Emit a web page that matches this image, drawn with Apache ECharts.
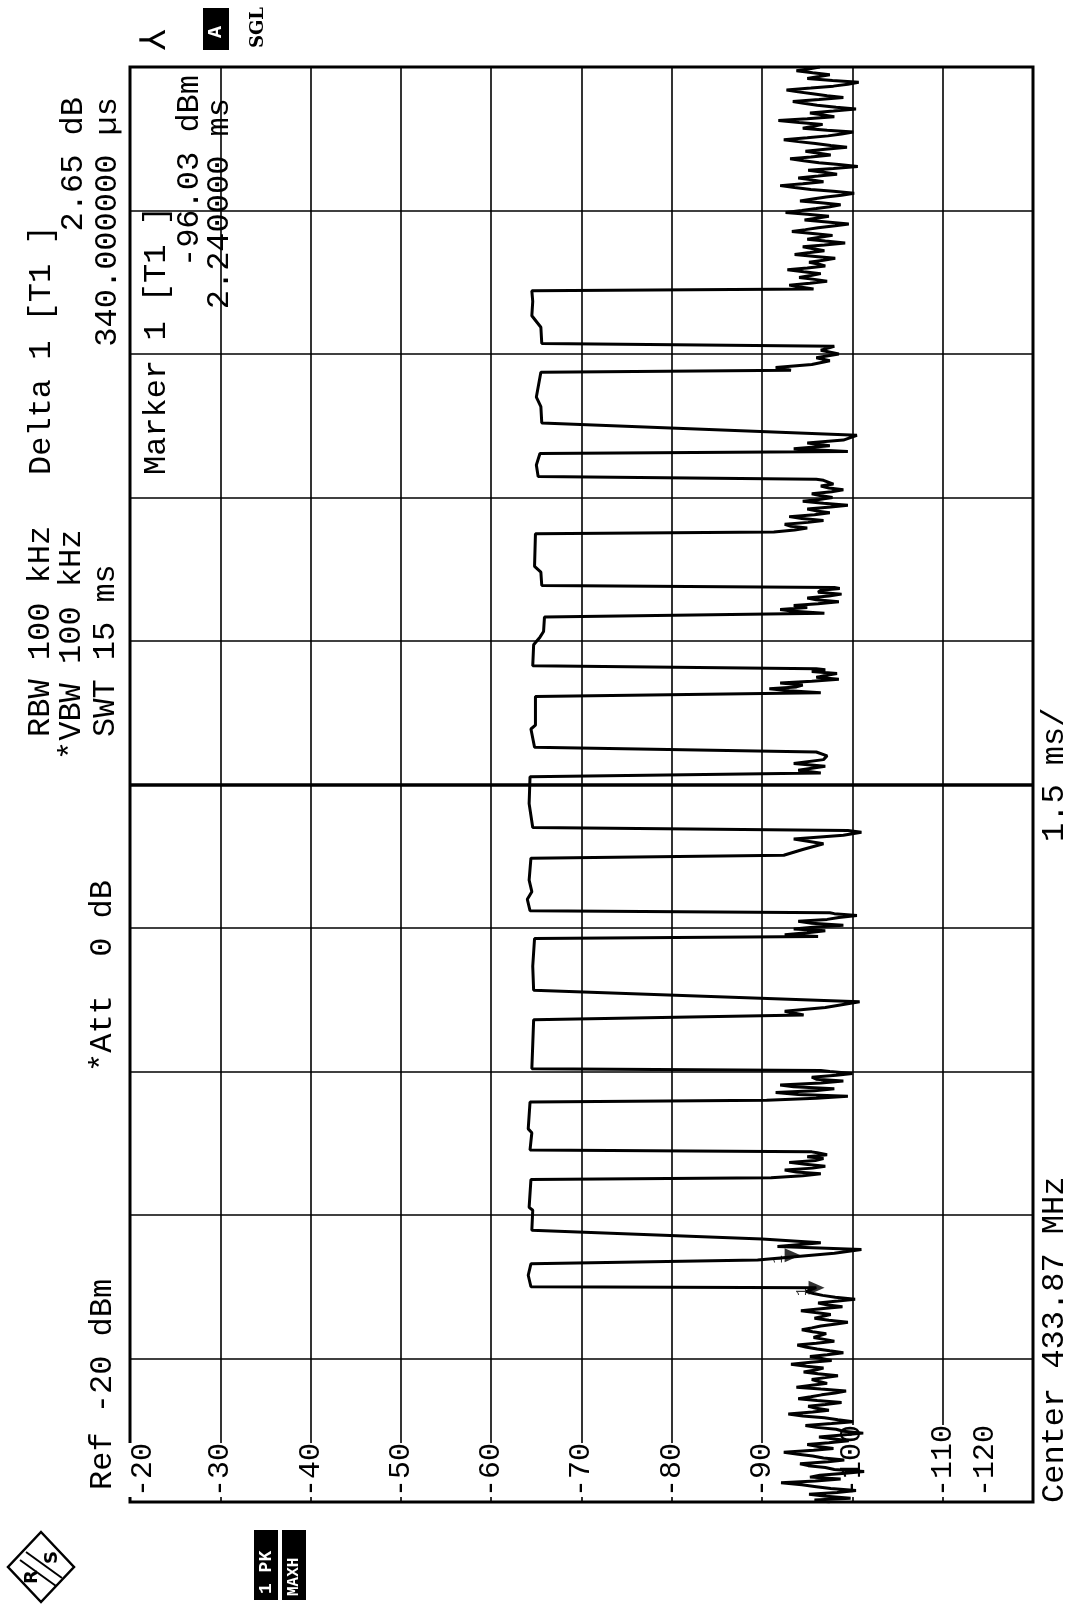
<!DOCTYPE html>
<html><head><meta charset="utf-8">
<script src="https://cdn.jsdelivr.net/npm/echarts@6/dist/echarts.min.js"></script>
<style>html,body{margin:0;padding:0;background:#fff}#c{width:1075px;height:1607px}</style>
</head><body><div id="c"></div>
<script>
// ---- data ----
const levelTicks = [-20, -30, -40, -50, -60, -70, -80, -90, -100, -110, -120]; // dBm
const timeRange = [0, 15]; // ms, 1.5 ms/div
const traceMs = [
  0.00,0.02,0.04,0.06,0.08,0.10,0.12,0.14,0.16,0.18,0.20,0.22,0.24,0.26,0.28,0.30,0.32,0.34,0.36,0.38,
  0.40,0.42,0.44,0.46,0.48,0.50,0.52,0.54,0.56,0.58,0.60,0.62,0.64,0.66,0.68,0.70,0.72,0.74,0.76,0.78,
  0.80,0.82,0.84,0.86,0.88,0.90,0.92,0.94,0.96,0.98,1.00,1.02,1.04,1.06,1.08,1.10,1.12,1.14,1.16,1.18,
  1.20,1.22,1.24,1.26,1.28,1.30,1.32,1.34,1.36,1.38,1.40,1.42,1.44,1.46,1.48,1.50,1.52,1.54,1.56,1.58,
  1.60,1.62,1.64,1.66,1.68,1.70,1.72,1.74,1.76,1.78,1.80,1.82,1.84,1.86,1.88,1.90,1.92,1.94,1.96,1.98,
  2.00,2.02,2.04,2.06,2.08,2.10,2.12,2.14,2.16,2.18,2.20,2.22,2.24,
  2.25,2.37,2.49, 2.53,2.60,2.64,2.67,2.71,2.75,
  2.84,3.05,3.08,3.37, 3.39,3.41,3.43,3.45,3.47,3.49,3.51,3.53,3.55,3.57,3.59,3.61,3.63,3.65,3.66,
  3.68,3.86,3.90,4.18, 4.20,4.22,4.24,4.26,4.28,4.30,4.32,4.34,4.36,4.38,4.40,4.42,4.44,4.46,4.48,4.50,4.51,
  4.53,4.78,5.04, 5.09,5.13,5.17,5.23,
  5.35,5.60,5.89, 5.91,5.93,5.95,5.97,5.99,6.01,6.03,6.05,6.07,6.09,6.11,6.13,6.15,6.16,
  6.18,6.30,6.38,6.50,6.73, 6.76,6.82,6.88,6.93,6.97,7.00,7.02,
  7.05,7.30,7.58, 7.62,7.65,7.69,7.72,7.76,7.80,7.84,
  7.89,8.08,8.12,8.42, 8.46,8.48,8.50,8.52,8.54,8.56,8.58,8.60,8.62,8.64,8.66,8.68,8.70,8.71,
  8.74,8.96,9.04,9.10,9.25, 9.29,9.31,9.33,9.35,9.37,9.39,9.41,9.43,9.45,9.47,9.49,9.51,9.53,9.55,9.56,
  9.58,9.72,9.78,10.12, 10.14,10.16,10.18,10.20,10.22,10.24,10.26,10.28,10.30,10.32,10.34,10.36,10.38,10.40,10.42,10.44,10.46,10.48,10.50,10.52,10.54,10.56,10.58,10.60,10.62,10.64,10.66,10.68,10.69,
  10.72,10.84,10.96, 10.98,11.01,11.04,11.07,11.10,11.15,
  11.28,11.45,11.55,11.81, 11.83,11.86,11.89,11.93,11.96,12.00,12.04,12.08,
  12.11,12.28,12.40,12.55,12.66,
  12.68,12.70,12.72,12.74,12.76,12.78,12.80,12.82,12.84,12.86,12.88,12.90,12.92,12.94,12.96,12.98,13.00,13.02,13.04,13.06,
  13.08,13.10,13.12,13.14,13.16,13.18,13.20,13.22,13.24,13.26,13.28,13.30,13.32,13.34,13.36,13.38,13.40,13.42,13.44,13.46,
  13.48,13.50,13.52,13.54,13.56,13.58,13.60,13.62,13.64,13.66,13.68,13.70,13.72,13.74,13.76,13.78,13.80,13.82,13.84,13.86,
  13.88,13.90,13.92,13.94,13.96,13.98,14.00,14.02,14.04,14.06,14.08,14.10,14.12,14.14,14.16,14.18,14.20,14.22,14.24,14.26,
  14.28,14.30,14.32,14.34,14.36,14.38,14.40,14.42,14.44,14.46,14.48,14.50,14.52,14.54,14.56,14.58,14.60,14.62,14.64,14.66,
  14.68,14.70,14.72,14.74,14.76,14.78,14.80,14.82,14.84,14.86,14.88,14.90,14.92,14.94,14.96,14.98,15.00
];
const traceDbm = [
  -97.5,-95.8,-99.8,-97.1,-95.2,-98.3,-100.4,-97.6,-96.0,-94.4,-92.1,-95.9,-98.7,-95.3,-96.4,-99.2,-101.3,-98.0,-97.0,-95.1,
  -94.2,-97.3,-99.1,-96.8,-95.6,-94.0,-92.4,-95.7,-97.9,-96.2,-95.0,-97.4,-99.6,-97.8,-96.3,-98.9,-101.2,-99.0,-98.2,-96.0,
  -94.8,-97.7,-100.1,-98.4,-96.9,-94.5,-92.9,-95.6,-97.4,-96.0,-95.1,-97.0,-98.8,-96.1,-94.0,-95.4,-96.6,-98.1,-99.3,-96.5,
  -93.8,-95.5,-97.2,-96.3,-95.5,-97.0,-98.4,-96.2,-94.6,-95.9,-96.8,-94.9,-93.2,-95.4,-97.7,-96.6,-95.3,-97.2,-99.0,-97.5,
  -96.1,-94.8,-93.9,-96.0,-98.0,-96.9,-95.7,-96.4,-97.1,-95.6,-94.4,-95.5,-96.5,-98.2,-99.5,-97.4,-95.8,-96.7,-97.6,-95.9,
  -94.3,-96.5,-98.9,-97.3,-96.2,-98.4,-100.3,-98.1,-96.7,-95.7,-94.9,-95.4,-96.0,
  -64.4,-64.1,-64.4, -89.5,-98.0,-101.0,-91.7,-96.5,-90.0,
  -64.5,-64.6,-64.2,-64.4, -91.0,-94.5,-96.5,-93.8,-92.5,-95.6,-97.0,-94.8,-93.0,-95.9,-96.8,-95.0,-97.2,-96.1,-95.5,
  -64.3,-64.5,-64.1,-64.3, -90.5,-96.0,-99.5,-94.0,-91.5,-95.8,-98.0,-93.5,-92.0,-96.5,-99.0,-96.0,-95.5,-98.2,-100.0,-97.5,-96.5,
  -64.5,-64.6,-64.7, -94.6,-92.5,-97.0,-100.8,
  -64.7,-64.6,-64.8, -96.2,-92.5,-95.0,-97.0,-93.5,-96.0,-99.0,-95.5,-94.0,-97.2,-98.5,-100.5,-98.0,-97.5,
  -64.3,-64.0,-64.5,-64.2,-64.4, -92.4,-94.5,-96.8,-93.5,-99.0,-101.0,-99.5,
  -64.6,-64.2,-64.3, -96.5,-94.0,-97.0,-93.5,-96.8,-97.2,-96.0,
  -64.8,-64.4,-64.9,-64.9, -96.5,-93.0,-90.8,-93.8,-94.5,-92.0,-95.5,-98.5,-96.0,-97.0,-98.3,-95.5,-97.0,-96.0,
  -64.6,-64.7,-65.4,-65.8,-65.9, -96.9,-93.5,-92.0,-95.0,-93.5,-96.2,-98.5,-96.0,-95.0,-97.4,-98.8,-96.2,-96.5,-98.6,-98.0,
  -65.6,-65.5,-64.8,-64.9, -91.3,-93.6,-95.0,-93.2,-92.5,-95.1,-96.8,-94.4,-93.0,-95.8,-97.5,-96.0,-95.0,-97.6,-99.5,-96.8,-94.5,-96.3,-97.8,-96.4,-95.5,-97.7,-99.0,-97.4,-96.5,-97.9,-98.0,-96.8,-96.0,
  -65.2,-65.0,-65.4, -99.5,-93.5,-97.5,-95.0,-99.0,-100.5,
  -65.6,-65.5,-65.0,-65.5, -93.2,-91.5,-95.5,-97.5,-96.0,-98.5,-96.5,-98.0,
  -65.6,-65.5,-64.5,-64.6,-64.5,
  -95.7,-94.2,-93.0,-95.3,-97.2,-95.8,-94.1,-95.4,-96.5,-94.6,-92.8,-95.0,-97.0,-96.2,-95.2,-96.8,-98.1,-95.9,-93.6,-95.3,
  -96.9,-95.7,-94.5,-96.9,-99.2,-97.0,-95.0,-96.4,-97.8,-95.6,-93.3,-94.8,-96.2,-98.1,-99.6,-97.2,-94.7,-96.0,-97.4,-95.0,
  -92.6,-94.4,-96.0,-97.5,-98.7,-96.5,-94.2,-95.6,-97.1,-98.8,-100.2,-97.9,-95.4,-93.6,-92.0,-94.5,-96.8,-95.5,-94.0,-96.2,
  -98.3,-96.8,-95.1,-97.9,-100.6,-98.5,-96.3,-94.6,-93.1,-95.4,-97.6,-96.1,-94.8,-97.0,-99.4,-97.6,-95.9,-94.0,-92.4,-95.0,
  -97.3,-98.8,-100.1,-97.2,-94.5,-95.7,-96.7,-94.1,-91.8,-95.0,-98.0,-96.6,-95.3,-97.9,-100.4,-98.2,-96.1,-94.6,-93.4,-96.3,
  -99.0,-97.2,-95.6,-94.0,-92.7,-95.4,-97.9,-99.5,-100.7,-97.8,-95.0,-96.3,-97.5,-95.6,-93.8,-95.1,-96.4
];
const markerMs = [2.24, 2.58];          // Marker 1, Delta 1
const markerDbm = [-96.03, -93.38];     // -96.03 dBm, +2.65 dB

// ---- texts: [text, x, y, align] ----
const FONT = '"Liberation Mono", "DejaVu Sans Mono", monospace';
const headerTexts = [
  ['Delta 1 [T1 ]', 42, 475, 'left'], ['2.65 dB', 74, 97, 'right'],
  ['340.000000 \u00b5s', 108, 97, 'right'],
  ['Marker 1 [T1 ]', 157, 475, 'left'], ['-96.03 dBm', 190, 75, 'right'], ['2.240000 ms', 220, 98, 'right'],
  ['RBW 100 kHz', 41, 737, 'left'], ['*VBW 100 kHz', 72, 760, 'left'], ['SWT 15 ms', 106, 737, 'left'],
  ['*Att  0 dB', 103, 1072, 'left'], ['Ref -20 dBm', 103, 1490, 'left'],
  ['Center 433.87 MHz', 1055, 1503, 'left'], ['1.5 ms/', 1055, 842, 'left']
];

const chart = echarts.init(document.getElementById('c'), null, {renderer: 'canvas'});
const data = traceMs.map((t, i) => [traceDbm[i], t]);

function vtext(txt, x, y, size, extra) {
  return {
    type: 'text', x: x, y: y, rotation: Math.PI / 2, z: 100,
    style: Object.assign({text: txt, fontFamily: FONT, fontSize: size, fill: '#000', align: 'left', verticalAlign: 'middle'}, (extra || {}))
  };
}

chart.setOption({
  animation: false,
  backgroundColor: '#fff',
  grid: {left: 130, right: 42, top: 67, bottom: 105, show: true, borderColor: '#000', borderWidth: 3, containLabel: false, outerBoundsMode: 'none'},
  xAxis: {
    type: 'value', min: levelTicks[levelTicks.length - 1], max: levelTicks[0], interval: 10, inverse: true,
    axisLine: {show: false}, axisTick: {show: false},
    splitLine: {show: true, lineStyle: {color: '#000', width: 1.6}},
    axisLabel: {inside: true, rotate: 90, margin: 5, fontFamily: FONT, fontSize: 30, color: '#000',
      backgroundColor: '#fff', showMinLabel: false, showMaxLabel: false}
  },
  yAxis: {
    type: 'value', min: timeRange[0], max: timeRange[1], interval: 1.5,
    axisLine: {show: false}, axisTick: {show: false}, axisLabel: {show: false},
    splitLine: {show: true, lineStyle: {color: '#000', width: 1.6}}
  },
  series: [
    {type: 'line', data: data, showSymbol: false, smooth: false, z: 5,
     lineStyle: {color: '#000', width: 3},
     markLine: {silent: true, symbol: 'none', label: {show: false}, lineStyle: {color: '#000', width: 3.5, type: 'solid'},
       data: [{yAxis: (timeRange[0] + timeRange[1]) / 2}]}},
    {type: 'scatter', data: markerMs.map((t, i) => [markerDbm[i], t]), symbol: 'triangle', symbolSize: [14, 16], symbolRotate: -90,
     itemStyle: {color: '#000'}, z: 6,
     label: {show: true, position: 'left', formatter: '1', rotate: 90, fontFamily: FONT, fontSize: 14, color: '#000', distance: 6}}
  ]
});

// edge tick labels (-20 and -120) shifted inside the frame
const pMin = chart.convertToPixel({gridIndex: 0}, [levelTicks[0], 0]);
const pMax = chart.convertToPixel({gridIndex: 0}, [levelTicks[levelTicks.length - 1], 0]);
const graphics = [
  vtext(String(levelTicks[0]), pMin[0] + 13, pMin[1] - 5, 30, {backgroundColor: '#fff'}),
  vtext(String(levelTicks[levelTicks.length - 1]), pMax[0] - 48, pMax[1] - 5, 30, {backgroundColor: '#fff'})
];
headerTexts.forEach(t => graphics.push(vtext(t[0], t[1], t[2], 32, {align: t[3]})));
// side labels
graphics.push(vtext('\u2144', 155, 50, 36));
graphics.push({type: 'rect', shape: {x: 203, y: 8, width: 26, height: 42}, style: {fill: '#000'}});
graphics.push(vtext('A', 216, 38, 20, {fill: '#fff', fontWeight: 'bold'}));
graphics.push(vtext('SGL', 258, 48, 18, {fontWeight: 'bold', fontFamily: 'DejaVu Serif'}));
// trace labels
graphics.push({type: 'rect', shape: {x: 254, y: 1530, width: 24, height: 70}, style: {fill: '#000'}});
graphics.push({type: 'rect', shape: {x: 282, y: 1530, width: 24, height: 70}, style: {fill: '#000'}});
graphics.push(vtext('1 PK', 266, 1594, 18, {fill: '#fff', fontWeight: 'bold'}));
graphics.push(vtext('MAXH', 294, 1596, 16, {fill: '#fff', fontWeight: 'bold'}));
// R&S logo
graphics.push({type: 'polygon', shape: {points: [[41, 1532], [74, 1567], [41, 1602], [8, 1567]]}, style: {fill: 'none', stroke: '#000', lineWidth: 2.5}});
graphics.push({type: 'line', shape: {x1: 20, y1: 1560, x2: 56, y2: 1586}, style: {stroke: '#000', lineWidth: 2}});
graphics.push({type: 'line', shape: {x1: 26, y1: 1552, x2: 62, y2: 1578}, style: {stroke: '#000', lineWidth: 2}});
graphics.push(vtext('R', 32, 1584, 18, {fontWeight: 'bold', fontFamily: 'DejaVu Sans'}));
graphics.push(vtext('S', 52, 1564, 18, {fontWeight: 'bold', fontFamily: 'DejaVu Sans'}));
chart.setOption({graphic: graphics});
</script>
</body></html>
